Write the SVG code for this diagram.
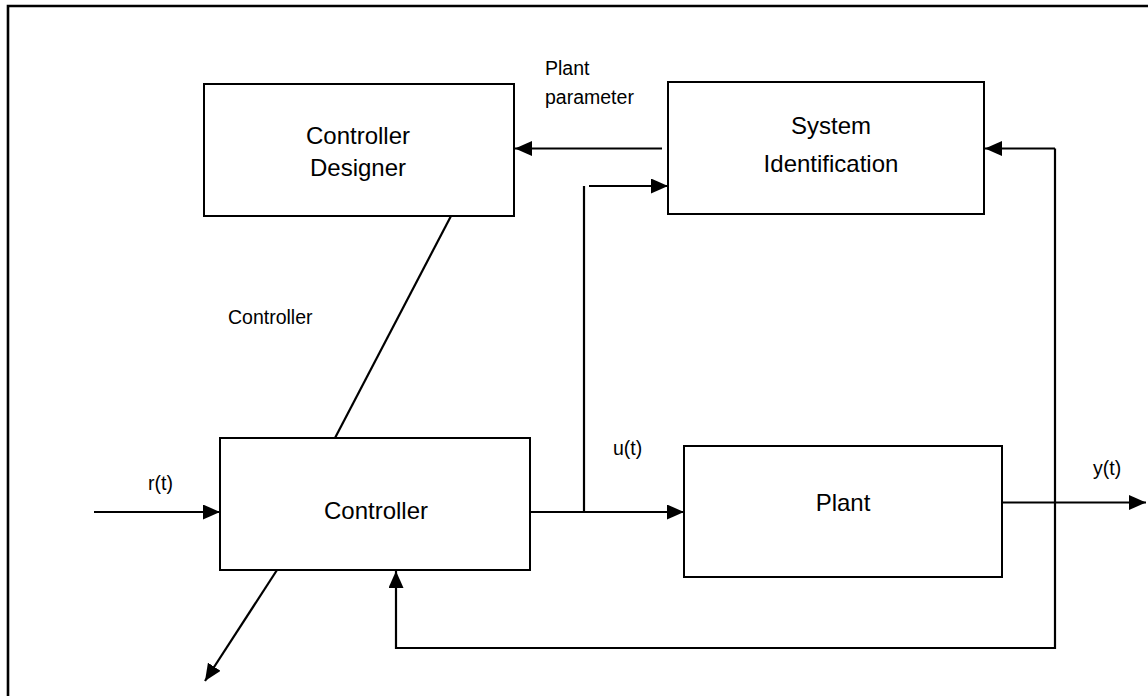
<svg xmlns="http://www.w3.org/2000/svg" width="1148" height="696" viewBox="0 0 1148 696">
<style>
.box{fill:#fff;stroke:#000;stroke-width:2}
.big{font-family:"Liberation Sans",Arial,sans-serif;font-size:24px;fill:#000;text-anchor:middle}
.small{font-family:"Liberation Sans",Arial,sans-serif;font-size:19.5px;fill:#000}
.c{fill:none;stroke:#000;stroke-width:2.2}
</style>
<defs>
<marker id="ah" markerUnits="userSpaceOnUse" markerWidth="17" markerHeight="15" refX="17" refY="7.5" orient="auto">
<path d="M0,0 L17,7.5 L0,15 Z" fill="#000"/>
</marker>
</defs>
<rect width="1148" height="696" fill="#fff"/>
<g id="frame">
<path d="M8,696 V6 H1148" fill="none" stroke="#000" stroke-width="2.6"/>
</g>
<g id="controller-designer">
<rect class="box" x="204" y="84" width="310" height="132"/>
<text class="big" x="358" y="144">Controller</text>
<text class="big" x="358" y="176">Designer</text>
</g>
<g id="system-identification">
<rect class="box" x="668" y="82" width="316" height="132"/>
<text class="big" x="831" y="134">System</text>
<text class="big" x="831" y="172">Identification</text>
</g>
<g id="controller">
<rect class="box" x="220" y="438" width="310" height="132"/>
<text class="big" x="376" y="519">Controller</text>
</g>
<g id="plant">
<rect class="box" x="684" y="446" width="318" height="131"/>
<text class="big" x="843" y="511">Plant</text>
</g>
<g id="connectors">
<line class="c" x1="662" y1="148.5" x2="515" y2="148.5" marker-end="url(#ah)"/>
<line class="c" x1="451" y1="216" x2="335" y2="438"/>
<line class="c" x1="94" y1="512" x2="220" y2="512" marker-end="url(#ah)"/>
<line class="c" x1="530" y1="512" x2="684" y2="512" marker-end="url(#ah)"/>
<line class="c" x1="584" y1="512" x2="584" y2="186"/>
<line class="c" x1="589" y1="186" x2="668" y2="186" marker-end="url(#ah)"/>
<line class="c" x1="1002" y1="502.5" x2="1146" y2="502.5" marker-end="url(#ah)"/>
<line class="c" x1="1055" y1="148.5" x2="985" y2="148.5" marker-end="url(#ah)"/>
<polyline class="c" points="1055,148.5 1055,648 396,648 396,571" marker-end="url(#ah)"/>
<line class="c" x1="277" y1="570" x2="205" y2="681" marker-end="url(#ah)"/>
</g>
<g id="labels">
<text class="small" x="545" y="75">Plant</text>
<text class="small" x="545" y="104">parameter</text>
<text class="small" x="228" y="324">Controller</text>
<text class="small" x="148" y="490">r(t)</text>
<text class="small" x="613" y="455">u(t)</text>
<text class="small" x="1093" y="475">y(t)</text>
</g>
</svg>
